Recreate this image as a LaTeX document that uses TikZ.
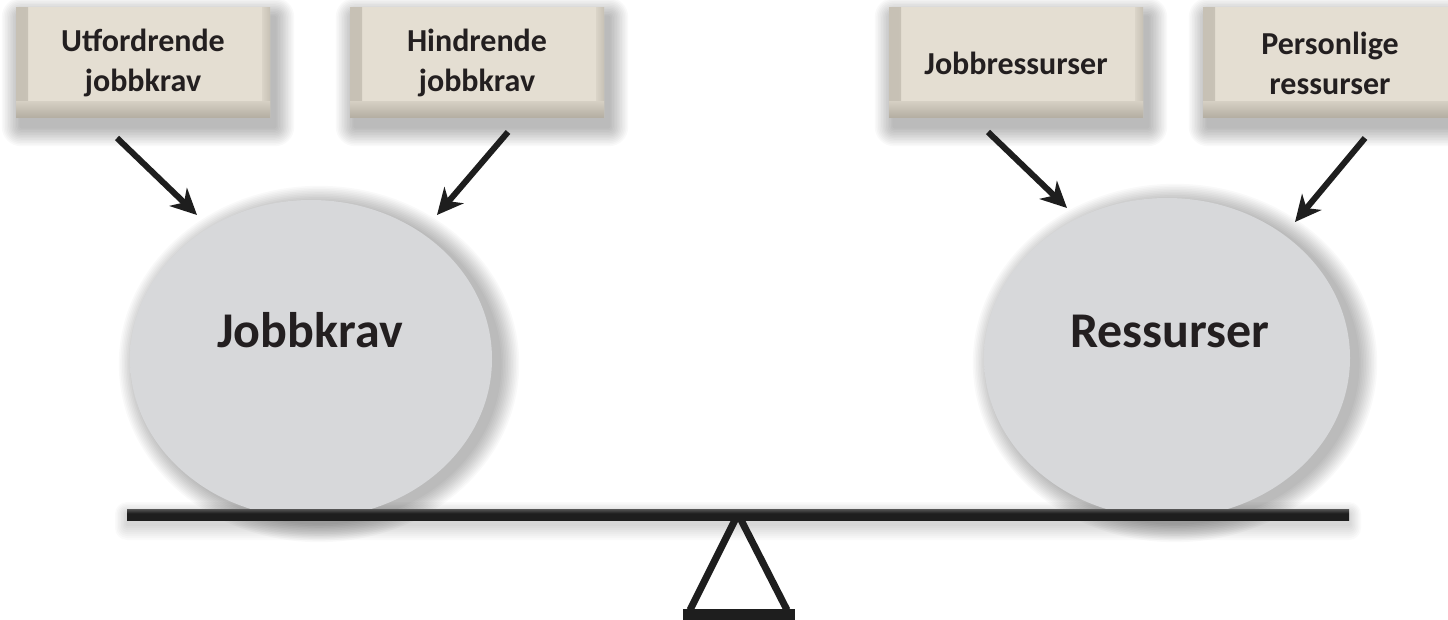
\documentclass[tikz,border=0pt]{standalone}
\usepackage{fontspec}
\setmainfont{Carlito}
\usetikzlibrary{shapes.geometric,arrows.meta}
\definecolor{txt}{HTML}{231F20}
\definecolor{bxlight}{HTML}{ECE8E0}
\definecolor{bxmid}{HTML}{E4DED2}
\definecolor{bxdark}{HTML}{A39D91}
\definecolor{bxedge}{HTML}{BDB7AB}
\definecolor{elc}{HTML}{D7D8DA}
\definecolor{elm}{HTML}{CBCCCE}
\definecolor{eld}{HTML}{98989A}
\definecolor{barc}{HTML}{1E1E1E}
\definecolor{barh}{HTML}{707070}
\pgfdeclareverticalshading{boxshade}{100bp}{color(0bp)=(bxdark); color(16bp)=(bxmid); color(88bp)=(bxmid); color(100bp)=(bxlight)}
\pgfdeclarehorizontalshading{leftedge}{100bp}{color(0bp)=(bxedge); color(100bp)=(bxmid)}
\pgfdeclarehorizontalshading{rightedge}{100bp}{color(0bp)=(bxmid); color(100bp)=(bxedge)}
\pgfdeclareverticalshading{bottomedge}{100bp}{color(0bp)=(bxdark); color(100bp)=(bxmid)}
\pgfdeclareradialshading{ballshade}{\pgfpoint{-3bp}{4bp}}{color(0bp)=(elc); color(40bp)=(elc); color(46bp)=(elm); color(50bp)=(eld); color(60bp)=(eld)}
\pgfdeclareverticalshading{beamshade}{100bp}{color(0bp)=(barc); color(55bp)=(barc); color(85bp)=(barh); color(100bp)=(barc)}
\newcommand\mysoftrect[4]{%
  \foreach \i in {1,...,12}{%
    \fill[black, opacity=0.022, rounded corners={\i*1.6pt}]
      ({#1+5-\i*1.6},{#2+9-\i*1.6}) rectangle ({#3+5+\i*1.6},{#4+9+\i*1.6});}}
\newcommand\mysoftell[4]{%
  \foreach \i in {1,...,12}{%
    \fill[black, opacity=0.022] ({#1+8},{#2+5}) ellipse [x radius={#3*1pt+\i*1.6pt}, y radius={#4*1pt+\i*1.6pt}];}}
\begin{document}
\begin{tikzpicture}[x=1pt,y=-1pt,
  box/.style={rectangle, shading=boxshade, minimum width=254pt, minimum height=110pt,
    inner sep=0pt, align=center, text=txt, font=\bfseries\fontsize{32}{40}\selectfont,
    path picture={
      \path[shading=leftedge]
      (path picture bounding box.north west) rectangle ([xshift=12pt]path picture bounding box.south west);
      \path[shading=rightedge]
      ([xshift=-8pt]path picture bounding box.north east) rectangle (path picture bounding box.south east);
      \path[shading=bottomedge]
      ([yshift=16pt]path picture bounding box.south west) rectangle (path picture bounding box.south east);}},
  ball/.style={ellipse, shading=ballshade, inner sep=0pt},
  big/.style={text=txt, font=\bfseries\fontsize{50}{60}\selectfont, anchor=base, inner sep=0pt},
  arr/.style={line width=6pt, draw=barc, -{Stealth[length=26pt,width=25pt,inset=8pt]}},
  leg/.style={line width=7pt, draw=barc}]
\useasboundingbox (0,0) rectangle (1448,620);
\fill[white] (0,0) rectangle (1448,620);

% soft shadows
\mysoftrect{16}{8}{270}{118}
\mysoftrect{350}{8}{604}{118}
\mysoftrect{889}{8}{1143}{118}
\mysoftrect{1203}{8}{1457}{118}
\mysoftell{311}{359}{181}{159}
\mysoftell{1167}{358}{183}{160}
\foreach \i in {1,...,8}{\fill[black, opacity=0.02, rounded corners={\i*1.5pt}]
  ({127-\i*1.5},{514-\i*1.5}) rectangle ({1349+\i*1.5},{524+\i*2});}

% boxes
\node[box] (b1) at (143,63) {Utfordrende\\jobbkrav};
\node[box] (b2) at (477,63) {Hindrende\\jobbkrav};
\node[box] (b3) at (1016,63) {Jobbressurser};
\node[box] (b4) at (1330,63) {Personlige\\ressurser};

% balls
\node[ball, minimum width=362pt, minimum height=318pt] (job) at (311,359) {};
\node[ball, minimum width=366pt, minimum height=320pt] (res) at (1167,358) {};
\node[big] (jobt) at (310,347) {Jobbkrav};
\node[big] (rest) at (1170,347) {Ressurser};

% arrows
\coordinate (a1s) at (117,138); \coordinate (a1e) at (197,215);
\coordinate (a2s) at (508,132); \coordinate (a2e) at (437,215);
\coordinate (a3s) at (988,132); \coordinate (a3e) at (1067,208);
\coordinate (a4s) at (1365,138); \coordinate (a4e) at (1295,222);
\draw[arr] (a1s) -- (a1e);
\draw[arr] (a2s) -- (a2e);
\draw[arr] (a3s) -- (a3e);
\draw[arr] (a4s) -- (a4e);

% fulcrum
\coordinate (apex) at (738,514);
\coordinate (fl) at (690,610);
\coordinate (fr) at (787,610);
\draw[leg] (apex) -- (fl);
\draw[leg] (apex) -- (fr);
\fill[barc] (683,609) rectangle (795,621);

% beam
\path[shading=beamshade] (127,509) rectangle (1349,520);
\end{tikzpicture}
\end{document}
